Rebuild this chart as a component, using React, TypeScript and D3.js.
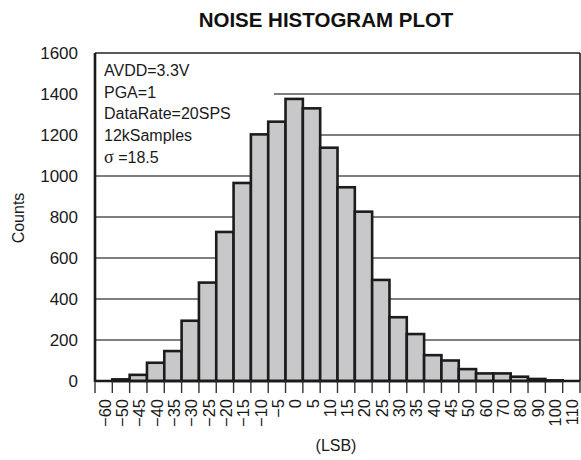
import React from "react";
import * as d3 from "d3";

const binLabels: string[] = ["−60","−50","−45","−40","−35","−30","−25","−20","−15","−10","−5","0","5","10","15","20","25","30","35","40","45","50","60","70","80","90","100","110"];
const counts: number[] = [0, 8, 30, 89, 146, 294, 480, 727, 966, 1203, 1265, 1376, 1330, 1138, 945, 826, 493, 311, 229, 126, 100, 58, 37, 37, 21, 10, 3, 0];
const yTicks: number[] = [0, 200, 400, 600, 800, 1000, 1200, 1400, 1600];
const notes: string[] = ["AVDD=3.3V", "PGA=1", "DataRate=20SPS", "12kSamples"];
const sigmaValue = "18.5";
const title = "NOISE HISTOGRAM PLOT";
const xTitle = "(LSB)";
const yTitle = "Counts";

const W = 581, H = 460;
const L = 95, R = 580, T = 53, B = 381;
const FONT = "'Liberation Sans', Arial, Helvetica, sans-serif";

export default function App() {
  const x = d3.scaleBand<string>().domain(binLabels).range([L, R]).padding(0);
  const y = d3.scaleLinear().domain([0, 1600]).range([B, T]);
  const bw = x.bandwidth();
  const boundaries = d3.range(binLabels.length + 1).map((i) => L + i * bw);

  return (
    <svg width={W} height={H} style={{ position: "absolute", left: 0, top: 0, background: "#fff" }} fontFamily={FONT}>
      <text x={326} y={27} textAnchor="middle" fontSize={20.5} fontWeight="bold" fill="#111">{title}</text>

      {/* gridlines */}
      {yTicks.filter((t) => t > 0 && t < 1600).map((t) => (
        <line key={t} x1={L} x2={R} y1={y(t)} y2={y(t)} stroke="#555" strokeWidth={1.3} />
      ))}

      {/* annotation box */}
      <rect x={L + 1} y={T + 1} width={178} height={116} fill="#fff" />
      {notes.map((n, i) => (
        <text key={n} x={104} y={76 + i * 21.7} fontSize={16} fill="#1a1a1a">{n}</text>
      ))}
      <text x={104} y={76 + 4 * 21.7} fontSize={16} fill="#1a1a1a">
        <tspan fontFamily="'Liberation Serif', 'Times New Roman', serif" fontSize={18}>σ</tspan>
        <tspan> ={sigmaValue}</tspan>
      </text>

      {/* bars */}
      {counts.map((c, i) => (
        c > 0 ? (
          <rect key={i} x={x(binLabels[i])!} y={y(c)} width={bw} height={B - y(c)}
            fill="#c8c8ca" stroke="#1c1c1c" strokeWidth={2.6} />
        ) : null
      ))}

      {/* frame */}
      <line x1={L} x2={R} y1={T} y2={T} stroke="#222" strokeWidth={1.6} />
      <line x1={R} x2={R} y1={T} y2={B} stroke="#222" strokeWidth={1.6} />
      <line x1={L} x2={R} y1={B} y2={B} stroke="#1a1a1a" strokeWidth={2.6} />
      <line x1={L} x2={L} y1={T} y2={B + 1} stroke="#1a1a1a" strokeWidth={2.6} />

      {/* x ticks */}
      {boundaries.map((bx, i) => (
        <line key={i} x1={bx} x2={bx} y1={B} y2={B + 12} stroke="#333" strokeWidth={1.4} />
      ))}

      {/* y tick labels */}
      {yTicks.map((t) => (
        <text key={t} x={78} y={y(t)} textAnchor="end" dominantBaseline="central" fontSize={17} fill="#1a1a1a">{t}</text>
      ))}

      {/* x tick labels */}
      {binLabels.map((lab) => {
        const cx = x(lab)! + bw / 2 + 1;
        return (
          <text key={lab} transform={`translate(${cx},${399}) rotate(-90)`} textAnchor="end" dominantBaseline="central" fontSize={16.5} fill="#1a1a1a">{lab}</text>
        );
      })}

      <text x={336} y={451} textAnchor="middle" fontSize={16} fill="#1a1a1a">{xTitle}</text>
      <text transform={`translate(24,${218}) rotate(-90)`} textAnchor="middle" fontSize={16} fill="#1a1a1a">{yTitle}</text>
    </svg>
  );
}
